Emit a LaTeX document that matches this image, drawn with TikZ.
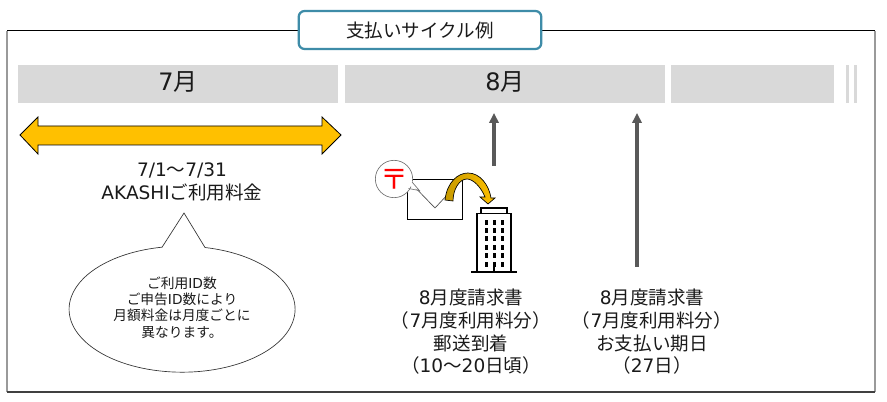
\documentclass[tikz,border=0pt]{standalone}
\usepackage{fontspec}
\setmainfont{Noto Sans CJK JP}
\newfontfamily\latfont{DejaVu Sans}
\newcommand{\lsn}[1]{{\latfont #1}}
\usetikzlibrary{arrows.meta}
\definecolor{barfill}{HTML}{D9D9D9}
\definecolor{txt}{HTML}{1A1A1A}
\definecolor{upgray}{HTML}{595959}
\definecolor{framegray}{HTML}{9A9A9A}
\definecolor{teal}{HTML}{3E8CA8}
\definecolor{gold}{HTML}{FFC000}
\definecolor{darkgold}{HTML}{C79A00}
\tikzset{
  bar/.style={fill=barfill,draw=none},
  lbl/.style={align=center,inner sep=0pt,font=\fontsize{13.9pt}{17pt}\selectfont,text=txt},
  smalltxt/.style={align=center,inner sep=0pt,font=\fontsize{10.3pt}{12.3pt}\selectfont,text=txt},
  month/.style={inner sep=0pt,font=\fontsize{18pt}{19pt}\selectfont,text=txt},
  uparrow/.style={draw=upgray,line width=2.6pt,-{Triangle[width=7pt,length=7.5pt,fill=upgray]}},
  frameside/.style={draw=framegray,line width=1.1pt},
  frametop/.style={draw=black,line width=0.75pt},
}
\begin{document}
\begin{tikzpicture}[x=0.75pt,y=-0.75pt]
\useasboundingbox (0,0) rectangle (887,402);
\fill[white] (0,0) rectangle (887,402);
% frame
\draw[frameside] (7,31) -- (7,392);
\draw[frameside] (875,31) -- (875,392);
\draw[draw=black!75,line width=0.9pt] (7,392) -- (875,392);
\draw[frametop] (7,31) -- (875,31);
% title
\node[draw=teal,line width=1.7pt,fill=white,rounded corners=4.5pt,minimum width=182pt,minimum height=28.5pt,inner sep=0pt,
  font=\fontsize{13.9pt}{16pt}\selectfont,text=txt] (title) at (420,30) {支払いサイクル例};
% bars
\path[bar] (18,65) rectangle (338,103);
\path[bar] (345,65) rectangle (665,103);
\path[bar] (671,65) rectangle (834,103);
\path[bar] (846,65) rectangle (849,103);
\path[bar] (854,65) rectangle (857,103);
\node[month] (m7) at (178,82) {\lsn{7}月};
\node[month] (m8) at (505,82) {\lsn{8}月};
% double arrow
\draw[fill=gold,draw=black,line width=0.6pt,line join=miter]
  (20,135) -- (38,117) -- (38,126) -- (322,126) -- (322,117) -- (341,135)
  -- (322,154) -- (322,145) -- (38,145) -- (38,154) -- cycle;
\node[lbl] (period) at (182,182) {\lsn{7/1}～\lsn{7/31}\\\lsn{AKASHI}ご利用料金};
% callout
\draw[draw=black!80,line width=0.5pt,fill=white] (184,213) -- (205,247.5)
  arc[start angle=78.3,end angle=-259.8,x radius=84.75pt,y radius=47.25pt] -- cycle;
\node[smalltxt] (note) at (182,307.5) {ご利用\lsn{ID}数\\ご申告\lsn{ID}数により\\月額料金は月度ごとに\\異なります。};
% envelope
\draw[black,line width=0.6pt,fill=white] (407,179) rectangle (462,219);
\draw[black!70,line width=0.5pt] (407,179) -- (435,208) -- (462,179);
% post mark
\draw[draw=black!55,line width=0.5pt,fill=white] (394,179) circle[radius=14pt];
\fill[white] (406,184) -- (419.5,190.6) -- (408,176) -- cycle;
\draw[draw=black!55,line width=0.5pt] (408.5,188.5) -- (419.5,190.6) -- (412,182);
\node[inner sep=0pt,text=red,font=\fontsize{21pt}{22pt}\selectfont] (post) at (394,179.5) {〒};
% curved arrow
\draw[left color=darkgold,right color=gold,draw=black,line width=0.5pt,line join=miter]
  (445,200) .. controls (447,182) and (458,173) .. (468,173)
  .. controls (480,173) and (489,185) .. (491,198)
  -- (495,198) -- (488,204) -- (480,197) -- (485,197)
  .. controls (481,187) and (473,179) .. (467,179)
  .. controls (459,179) and (453,190) .. (453,201) -- cycle;
% building
\draw[black,line width=0.8pt,fill=white] (481,213) -- (481,208) -- (507,208) -- (507,213);
\draw[black,line width=1pt,fill=white] (477,272) -- (477,213.5) -- (511,213.5) -- (511,272);
\draw[black,line width=1pt] (471,272) -- (517,272);
\foreach \cx in {486,494,502}
  \foreach \cy in {223,231,239,248,256,265}
    \fill[black] (\cx-1.5,\cy-2.5) rectangle (\cx+1.5,\cy+2.5);
\fill[black] (492.7,263) rectangle (495.3,272);
% connectors
\coordinate (a1s) at (494,166);
\coordinate (a1e) at (494,113);
\coordinate (a2s) at (637,267);
\coordinate (a2e) at (637,113);
\draw[uparrow] (a1s) -- (a1e);
\draw[uparrow] (a2s) -- (a2e);
% labels
\node[lbl] (l1) at (471,332) {\lsn{8}月度請求書\\（\lsn{7}月度利用料分）\\郵送到着\\（\lsn{10}～\lsn{20}日頃）};
\node[lbl] (l2) at (652,332) {\lsn{8}月度請求書\\（\lsn{7}月度利用料分）\\お支払い期日\\（\lsn{27}日）};
\end{tikzpicture}
\end{document}
